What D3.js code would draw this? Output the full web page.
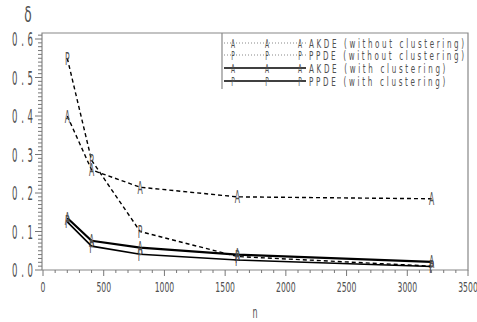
<!DOCTYPE html>
<html>
<head>
<meta charset="utf-8">
<script src="https://cdn.jsdelivr.net/npm/d3@7"></script>
<style>
  body { margin: 0; background: #fff; }
  svg text { font-family: "DejaVu Sans", sans-serif; fill: #505050; }
</style>
</head>
<body>
<div id="chart"></div>
<script>
var nValues = [200, 400, 800, 1600, 3200];
var akdeNoClust = [0.40, 0.26, 0.215, 0.19, 0.185];
var ppdeNoClust = [0.55, 0.285, 0.10, 0.035, 0.01];
var akdeClust = [0.135, 0.076, 0.058, 0.040, 0.021];
var ppdeClust = [0.125, 0.062, 0.041, 0.026, 0.009];
var xTicks = [0, 500, 1000, 1500, 2000, 2500, 3000, 3500];
var yTicks = [0.0, 0.1, 0.2, 0.3, 0.4, 0.5, 0.6];
var legendLabels = ['AKDE (without clustering)', 'PPDE (without clustering)',
                    'AKDE (with clustering)', 'PPDE (with clustering)'];

var width = 477, height = 322;
var plotLeft = 42, plotRight = 468, plotTop = 33, plotBottom = 270;

var svg = d3.select('#chart').append('svg')
    .attr('width', width)
    .attr('height', height);

var x = d3.scaleLinear().domain([0, 3500]).range([43, 468]);
var y = d3.scaleLinear().domain([0, 0.6]).range([270, 39]);

// squeezed text, like the stroke font of the original
function narrowText(g, str, tx, ty, size, sx, anchor, len) {
    var t = g.append('text')
        .attr('transform', 'translate(' + tx + ',' + ty + ') scale(' + sx + ',1)')
        .attr('font-size', size)
        .attr('text-anchor', anchor)
        .text(str);
    if (len) t.attr('textLength', len / sx).attr('lengthAdjust', 'spacing');
    return t;
}

// frame
svg.append('path')
    .attr('d', 'M' + plotLeft + ',' + plotBottom + 'V' + plotTop + 'H' + plotRight +
        'V' + plotBottom + 'H' + plotLeft)
    .attr('fill', 'none')
    .attr('stroke', '#888')
    .attr('stroke-width', 1.2);

// x ticks
var xg = svg.append('g');
xg.selectAll('line')
    .data(d3.range(0, 3501, 100))
    .enter().append('line')
    .attr('x1', function (d) { return x(d); })
    .attr('x2', function (d) { return x(d); })
    .attr('y1', plotBottom)
    .attr('y2', function (d) { return plotBottom + (d % 500 === 0 ? 6 : 3); })
    .attr('stroke', '#777');
xTicks.forEach(function (d) {
    narrowText(xg, String(d), x(d), 292, 14, 0.55, 'middle');
});

// y ticks
var yg = svg.append('g');
yg.selectAll('line')
    .data(d3.range(0, 62, 1))
    .enter().append('line')
    .attr('x1', plotLeft)
    .attr('x2', function (d) { return plotLeft - (d % 10 === 0 ? 7 : 4); })
    .attr('y1', function (d) { return y(d / 100); })
    .attr('y2', function (d) { return y(d / 100); })
    .attr('stroke', '#777');
yTicks.forEach(function (d) {
    narrowText(yg, d.toFixed(1), 33, y(d) + 7, 19, 0.45, 'end', 21);
});

// axis titles
narrowText(svg, 'δ', 28, 22, 22, 0.55, 'middle');
narrowText(svg, 'n', 255, 318, 16, 0.5, 'middle');

var line = d3.line()
    .x(function (d) { return x(d[0]); })
    .y(function (d) { return y(d[1]); });

var series = [
    { vals: akdeNoClust, sym: 'A', dash: '4,3', w: 1.4 },
    { vals: ppdeNoClust, sym: 'P', dash: '4,3', w: 1.4 },
    { vals: akdeClust, sym: 'A', dash: null, w: 2.2 },
    { vals: ppdeClust, sym: 'P', dash: null, w: 1.6 }
];

series.forEach(function (s) {
    var pts = nValues.map(function (n, i) { return [n, s.vals[i]]; });
    svg.append('path')
        .datum(pts)
        .attr('d', line)
        .attr('fill', 'none')
        .attr('stroke', '#000')
        .attr('stroke-width', s.w)
        .attr('stroke-dasharray', s.dash);
    pts.forEach(function (p) {
        narrowText(svg, s.sym, x(p[0]), y(p[1]) + 6.5, 17, 0.45, 'middle');
    });
});

// legend
var lg = svg.append('g');
lg.append('line')
    .attr('x1', 222).attr('x2', 222)
    .attr('y1', plotTop).attr('y2', 89)
    .attr('stroke', '#888')
    .attr('stroke-width', 1.2);
var rowsY = [43, 55, 68, 81];
legendLabels.forEach(function (lab, i) {
    var ry = rowsY[i];
    var dotted = i < 2;
    lg.append('line')
        .attr('x1', 224).attr('x2', 306)
        .attr('y1', ry).attr('y2', ry)
        .attr('stroke', dotted ? '#888' : '#000')
        .attr('stroke-width', dotted ? 1 : 1.4)
        .attr('stroke-dasharray', dotted ? '1,2' : null);
    [233, 267, 300].forEach(function (sx) {
        narrowText(lg, i % 2 === 0 ? 'A' : 'P', sx, ry + 5, 13, 0.45, 'middle');
    });
    narrowText(lg, lab, 309, ry + 5, 13, 0.55, 'start', lab.length * 6.2);
});
</script>
</body>
</html>
